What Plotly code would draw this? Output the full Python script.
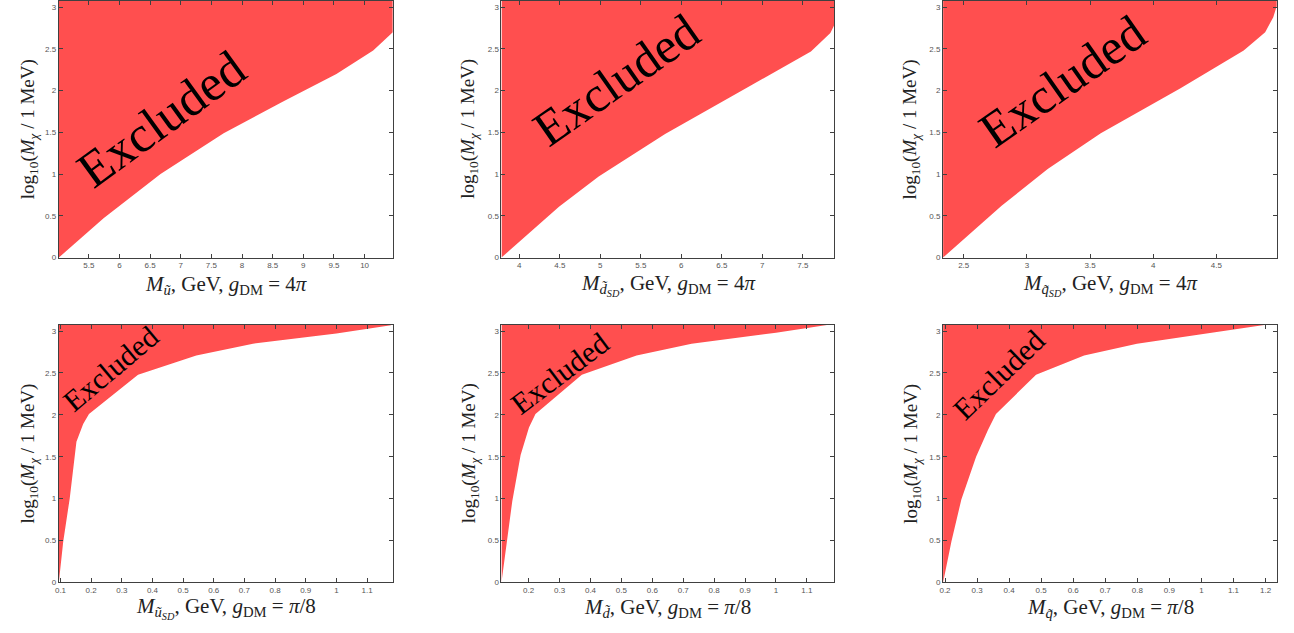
import plotly.graph_objects as go

# ---------------- data ----------------
# Panel 1: M_u~, g_DM = 4pi
p1_x = [5.01, 5.74, 6.67, 7.70, 8.67, 9.54, 10.14, 10.46]
p1_y = [0.00, 0.47, 1.00, 1.49, 1.87, 2.20, 2.48, 2.70]
# Panel 2: M_dSD, g_DM = 4pi
p2_x = [3.78, 4.49, 4.98, 5.80, 6.82, 7.60, 7.84, 7.89]
p2_y = [0.00, 0.61, 0.97, 1.48, 2.04, 2.47, 2.69, 2.79]
# Panel 3: M_qSD, g_DM = 4pi
p3_x = [2.337, 2.80, 3.165, 3.585, 4.216, 4.716, 4.886, 4.95, 4.977]
p3_y = [0.00, 0.62, 1.06, 1.49, 2.03, 2.48, 2.70, 2.88, 3.01]
# Panel 4: M_uSD, g_DM = pi/8
p4_x = [0.0946, 0.109, 0.130, 0.152, 0.174, 0.193, 0.353, 0.543, 0.728, 1.0, 1.178]
p4_y = [0.00, 0.49, 1.00, 1.68, 1.89, 2.01, 2.48, 2.71, 2.85, 2.97, 3.07]
# Panel 5: M_d~, g_DM = pi/8
p5_x = [0.112, 0.147, 0.174, 0.201, 0.222, 0.372, 0.549, 0.727, 1.0, 1.167]
p5_y = [0.00, 0.97, 1.52, 1.85, 2.01, 2.48, 2.71, 2.85, 2.98, 3.07]
# Panel 6: M_q~, g_DM = pi/8
p6_x = [0.194, 0.220, 0.251, 0.297, 0.334, 0.359, 0.484, 0.634, 0.799, 1.0, 1.198]
p6_y = [0.00, 0.49, 0.99, 1.50, 1.82, 2.01, 2.48, 2.71, 2.85, 2.96, 3.07]

x_ranges = [[5.01, 10.46], [3.78, 7.89], [2.337, 4.98],
            [0.0946, 1.184], [0.112, 1.189], [0.194, 1.236]]
y_range = [0, 3.074]

x_ticks = [
    [5.5, 6, 6.5, 7, 7.5, 8, 8.5, 9, 9.5, 10],
    [4, 4.5, 5, 5.5, 6, 6.5, 7, 7.5],
    [2.5, 3, 3.5, 4, 4.5],
    [0.1, 0.2, 0.3, 0.4, 0.5, 0.6, 0.7, 0.8, 0.9, 1, 1.1],
    [0.2, 0.3, 0.4, 0.5, 0.6, 0.7, 0.8, 0.9, 1, 1.1],
    [0.2, 0.3, 0.4, 0.5, 0.6, 0.7, 0.8, 0.9, 1, 1.1, 1.2],
]
y_ticks = [0, 0.5, 1, 1.5, 2, 2.5, 3]
y_tick_labels = ["0", "0.5", "1", "1.5", "2", "2.5", "3"]

x_titles = [
    "<i>M</i><sub><i>ũ</i></sub>, GeV, <i>g</i><sub>DM</sub> = 4<i>π</i>",
    "<i>M</i><sub><i>d̃</i><sub><i>SD</i></sub></sub>, GeV, <i>g</i><sub>DM</sub> = 4<i>π</i>",
    "<i>M</i><sub><i>q̃</i><sub><i>SD</i></sub></sub>, GeV, <i>g</i><sub>DM</sub> = 4<i>π</i>",
    "<i>M</i><sub><i>ũ</i><sub><i>SD</i></sub></sub>, GeV, <i>g</i><sub>DM</sub> = <i>π</i>/8",
    "<i>M</i><sub><i>d̃</i></sub>, GeV, <i>g</i><sub>DM</sub> = <i>π</i>/8",
    "<i>M</i><sub><i>q̃</i></sub>, GeV, <i>g</i><sub>DM</sub> = <i>π</i>/8",
]
y_title = "log<sub>10</sub>(<i>M</i><sub><i>χ</i></sub> / 1 MeV)"
label_text = "Excluded"

series = [(p1_x, p1_y), (p2_x, p2_y), (p3_x, p3_y),
          (p4_x, p4_y), (p5_x, p5_y), (p6_x, p6_y)]

# ---------------- layout geometry ----------------
W, H = 1294, 633
col_px = [(55, 390), (499, 833), (942, 1277)]
row_px = [(0, 259), (327, 587)]
ytitle_px = [25, 467, 910]
xtitle_py = [287, 613]
# (center x px, center y px, angle, font size) for "Excluded"
excl = [(158, 119, -36, 51), (614, 80, -35, 50), (1062, 81, -35, 50),
        (107, 371, -40, 30), (557, 376, -37, 30), (998, 377, -44, 30)]

RED = "#FF4F4F"
AX = "#404040"
SERIF = "Liberation Serif, DejaVu Serif, serif"

fig = go.Figure()
layout = dict(width=W, height=H, margin=dict(l=0, r=0, t=0, b=0),
              paper_bgcolor="white", plot_bgcolor="white", showlegend=False)
annotations = []

for i, (xs, ys) in enumerate(series):
    r, c = divmod(i, 3)
    n = i + 1
    xa = "x" if n == 1 else f"x{n}"
    ya = "y" if n == 1 else f"y{n}"
    ytop = y_range[1]
    px = list(xs) + [xs[-1], xs[0]]
    py = list(ys) + [ytop, ytop]
    fig.add_trace(go.Scatter(x=px, y=py, fill="toself", fillcolor=RED,
                             mode="lines", line=dict(width=0, color=RED),
                             xaxis=xa, yaxis=ya, hoverinfo="skip"))
    x0, x1 = col_px[c]
    y0, y1 = row_px[r]
    axcommon = dict(showline=True, linecolor=AX, linewidth=1, mirror="ticks",
                    ticks="inside", ticklen=4, tickcolor=AX, showgrid=False,
                    zeroline=False, tickfont=dict(family="Liberation Sans, Arial, sans-serif",
                                                  size=8, color="#555555"))
    layout["xaxis" if n == 1 else f"xaxis{n}"] = dict(
        domain=[x0 / W, x1 / W], range=x_ranges[i], anchor=ya,
        tickvals=x_ticks[i], ticktext=[f"{v:g}" for v in x_ticks[i]], **axcommon)
    layout["yaxis" if n == 1 else f"yaxis{n}"] = dict(
        domain=[1 - y1 / H, 1 - y0 / H], range=y_range, anchor=xa,
        tickvals=y_ticks, ticktext=y_tick_labels, **axcommon)
    annotations.append(dict(text=x_titles[i], xref="paper", yref="paper",
                            x=(x0 + x1) / 2 / W, y=1 - xtitle_py[r] / H,
                            showarrow=False, xanchor="center", yanchor="middle",
                            font=dict(family=SERIF, size=21, color="#222222")))
    annotations.append(dict(text=y_title, xref="paper", yref="paper",
                            x=ytitle_px[c] / W, y=1 - (y0 + y1) / 2 / H,
                            textangle=-90, showarrow=False,
                            xanchor="center", yanchor="middle",
                            font=dict(family=SERIF, size=19, color="#222222")))
    ex, ey, ang, fs = excl[i]
    annotations.append(dict(text=label_text, xref="paper", yref="paper",
                            x=ex / W, y=1 - ey / H, textangle=ang,
                            showarrow=False, xanchor="center", yanchor="middle",
                            font=dict(family=SERIF, size=fs, color="black")))

layout["annotations"] = annotations
fig.update_layout(**layout)
fig.write_html("out.html", config={"displayModeBar": False},
               post_script="document.body.style.margin='0';document.body.style.overflow='hidden';")
